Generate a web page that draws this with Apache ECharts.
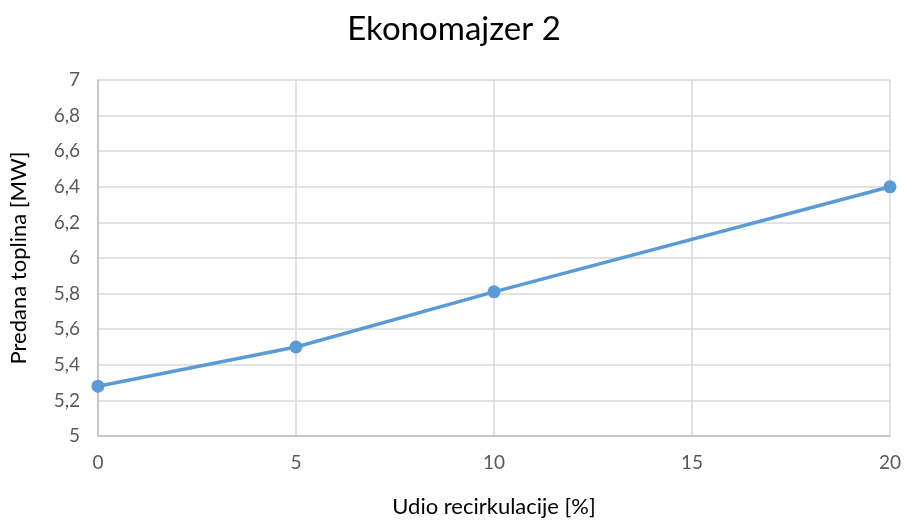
<!DOCTYPE html>
<html>
<head>
<meta charset="utf-8">
<script src="https://cdn.jsdelivr.net/npm/echarts@6/dist/echarts.min.js"></script>
<style>
  html, body { margin: 0; padding: 0; background: #fff; }
  #chart { width: 908px; height: 523px; }
</style>
</head>
<body>
<div id="chart"></div>
<script>
// podaci očitani s grafa
const udio = [0, 5, 10, 20];
const toplina = [5.28, 5.5, 5.81, 6.4];

const chart = echarts.init(document.getElementById('chart'));

const font = 'Lato, "Open Sans", sans-serif';
const fmt = v => String(Math.round(v * 10) / 10).replace('.', ',');

chart.setOption({
  animation: false,
  title: {
    text: 'Ekonomajzer 2',
    left: 'center',
    top: 8,
    textStyle: { fontFamily: font, fontSize: 33, fontWeight: 'normal', color: '#000' }
  },
  grid: { left: 98, right: 18, top: 80, bottom: 85 },
  xAxis: {
    type: 'value',
    min: 0,
    max: 20,
    interval: 5,
    name: 'Udio recirkulacije [%]',
    nameLocation: 'middle',
    nameGap: 60,
    nameTextStyle: { fontFamily: font, fontSize: 22, color: '#000' },
    axisLine: { show: true, lineStyle: { color: '#bfbfbf', width: 1.5 } },
    axisTick: { show: false },
    axisLabel: { fontFamily: font, fontSize: 19, color: '#595959', margin: 17 },
    splitLine: { show: true, lineStyle: { color: '#d9d9d9', width: 1.5 } }
  },
  yAxis: {
    type: 'value',
    min: 5,
    max: 7,
    interval: 0.2,
    name: 'Predana toplina [MW]',
    nameLocation: 'middle',
    nameGap: 68,
    nameTextStyle: { fontFamily: font, fontSize: 22, color: '#000' },
    axisLine: { show: true, lineStyle: { color: '#bfbfbf', width: 1.5 } },
    axisTick: { show: false },
    axisLabel: { fontFamily: font, fontSize: 19, color: '#595959', margin: 18, formatter: fmt },
    splitLine: { show: true, lineStyle: { color: '#d9d9d9', width: 1.5 } }
  },
  series: [{
    type: 'line',
    data: udio.map((x, i) => [x, toplina[i]]),
    symbol: 'circle',
    symbolSize: 13,
    lineStyle: { color: '#5b9bd5', width: 3.5 },
    itemStyle: { color: '#5b9bd5' }
  }]
});
</script>
</body>
</html>
